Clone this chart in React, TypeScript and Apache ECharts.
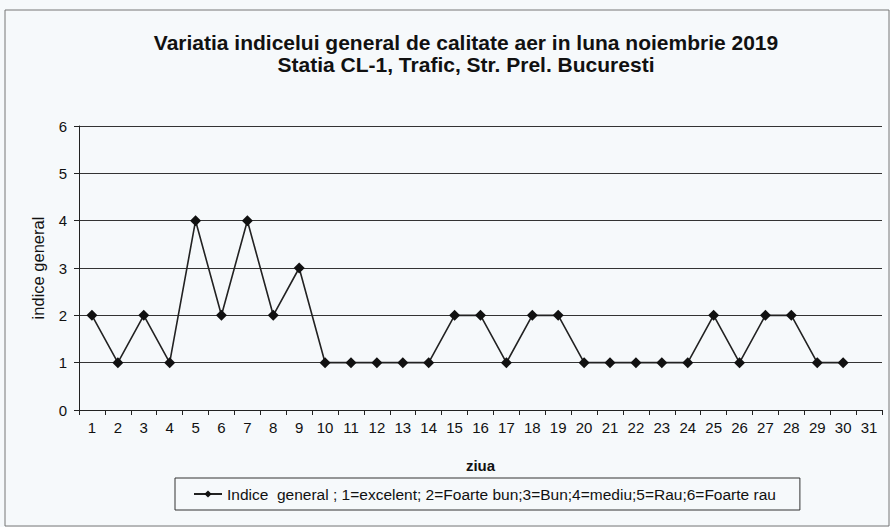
import React, { useEffect, useRef } from "react";
import * as echarts from "echarts";

const days = Array.from({ length: 31 }, (_, i) => String(i + 1));
const indexValues = [2, 1, 2, 1, 4, 2, 4, 2, 3, 1, 1, 1, 1, 1, 2, 2, 1, 2, 2, 1, 1, 1, 1, 1, 2, 1, 2, 2, 1, 1];
const seriesName = "Indice  general ; 1=excelent; 2=Foarte bun;3=Bun;4=mediu;5=Rau;6=Foarte rau";
const titleLines = [
  "Variatia indicelui general de calitate aer in luna noiembrie 2019",
  "Statia CL-1, Trafic, Str. Prel. Bucuresti",
];

export default function App() {
  const ref = useRef<HTMLDivElement>(null);
  useEffect(() => {
    if (!ref.current) return;
    const chart = echarts.init(ref.current, undefined, { renderer: "svg" });
    const font = "Arial, 'Liberation Sans', sans-serif";
    chart.setOption({
      animation: false,
      backgroundColor: "#f6f9fb",
      textStyle: { fontFamily: font },
      title: {
        text: titleLines.join("\n"),
        left: 461,
        textAlign: "center",
        top: 26,
        textStyle: { fontSize: 21, fontWeight: "bold", color: "#111", lineHeight: 22, fontFamily: font },
      },
      graphic: [
        {
          type: "rect",
          shape: { x: 5, y: 10, width: 884, height: 516 },
          style: { fill: "none", stroke: "#777", lineWidth: 1 },
          silent: true,
        },
      ],
      grid: { left: 79, right: 8, top: 126, bottom: 117 },
      legend: {
        show: true,
        top: 478,
        left: 175,
        padding: [8, 24, 8, 18],
        borderColor: "#333",
        borderWidth: 1,
        itemWidth: 28,
        itemHeight: 9,
        itemGap: 4,
        textStyle: { fontSize: 15.5, color: "#111", fontFamily: font },
        data: [seriesName],
      },
      xAxis: {
        type: "category",
        data: days,
        boundaryGap: true,
        name: "ziua",
        nameLocation: "middle",
        nameGap: 48,
        nameTextStyle: { fontSize: 15, fontWeight: "bold", color: "#111" },
        axisLine: { lineStyle: { color: "#222", width: 1 } },
        axisTick: { show: true, interval: 0, length: 5, lineStyle: { color: "#222" } },
        axisLabel: { interval: 0, fontSize: 15, color: "#111", margin: 10 },
      },
      yAxis: {
        type: "value",
        min: 0,
        max: 6,
        interval: 1,
        name: "indice general",
        nameLocation: "middle",
        nameGap: 33,
        nameTextStyle: { fontSize: 16.5, color: "#111" },
        axisLine: { show: true, lineStyle: { color: "#222" } },
        axisTick: { show: true, length: 5, lineStyle: { color: "#222" } },
        axisLabel: { fontSize: 15, color: "#111", margin: 12 },
        splitLine: { show: true, lineStyle: { color: "#333", width: 1 } },
      },
      series: [
        {
          name: seriesName,
          type: "line",
          data: indexValues,
          symbol: "diamond",
          symbolSize: 11,
          itemStyle: { color: "#111" },
          lineStyle: { color: "#222", width: 1.6 },
        },
      ],
    });
    return () => chart.dispose();
  }, []);
  return <div ref={ref} style={{ position: "absolute", left: 0, top: 0, width: 890, height: 527 }} />;
}
